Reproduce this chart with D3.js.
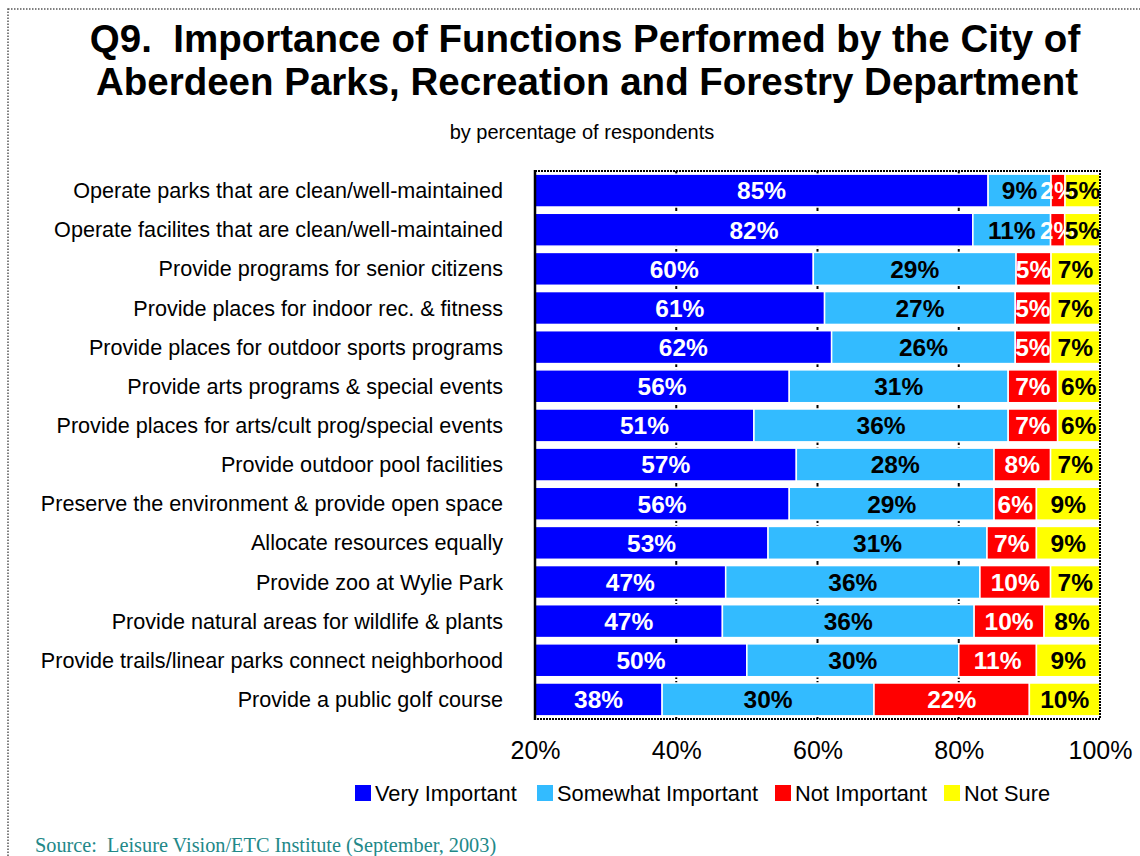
<!DOCTYPE html>
<html>
<head>
<meta charset="utf-8">
<script src="https://cdn.jsdelivr.net/npm/d3@7"></script>
<style>
  body { margin: 0; background: #fff; }
  text { font-family: "Liberation Sans", Arial, sans-serif; }
</style>
</head>
<body>
<div id="chart-area"></div>
<script>
// Q9 importance chart

const categories = [
  "Operate parks that are clean/well-maintained",
  "Operate facilites that are clean/well-maintained",
  "Provide programs for senior citizens",
  "Provide places for indoor rec. & fitness",
  "Provide places for outdoor sports programs",
  "Provide arts programs & special events",
  "Provide places for arts/cult prog/special events",
  "Provide outdoor pool facilities",
  "Preserve the environment & provide open space",
  "Allocate resources equally",
  "Provide zoo at Wylie Park",
  "Provide natural areas for wildlife & plants",
  "Provide trails/linear parks connect neighborhood",
  "Provide a public golf course"
]
const veryImportant = [85, 82, 60, 61, 62, 56, 51, 57, 56, 53, 47, 47, 50, 38]
const somewhatImportant = [9, 11, 29, 27, 26, 31, 36, 28, 29, 31, 36, 36, 30, 30]
const notImportant = [2, 2, 5, 5, 5, 7, 7, 8, 6, 7, 10, 10, 11, 22]
const notSure = [5, 5, 7, 7, 7, 6, 6, 7, 9, 9, 7, 8, 9, 10]

const seriesNames = ["Very Important", "Somewhat Important", "Not Important", "Not Sure"]
const seriesKeys = ["very", "somewhat", "not", "unsure"]
const colors = ["#0000ff", "#33bbff", "#ff0000", "#ffff00"]
const labelColors = ["#fff", "#000", "#fff", "#000"]
const tickValues = [20, 40, 60, 80, 100]
const gridValues = [40, 60, 80]

const W = 1140, H = 856
const PLOT = { LEFT: 535, RIGHT: 1100, TOP: 171, BOTTOM: 719 }

const svg = d3.select("#chart-area").append("svg")
  .attr("width", W)
  .attr("height", H)

// outer dotted frame
svg.append("rect")
  .attr("x", 8).attr("y", 9)
  .attr("width", W + 20).attr("height", H + 20)
  .attr("fill", "none")
  .attr("stroke", "#555")
  .attr("stroke-width", 1.5)
  .attr("stroke-dasharray", "1.5,1.5")

// titles
const title = svg.append("text")
  .attr("x", 586)
  .attr("font-size", "38.5px")
  .attr("font-weight", "bold")
  .attr("text-anchor", "middle")
title.append("tspan").attr("x", 585).attr("y", 52)
  .text("Q9.\u00a0 Importance of Functions Performed by the City of")
title.append("tspan").attr("x", 587).attr("y", 95)
  .text("Aberdeen Parks, Recreation and Forestry Department")

svg.append("text")
  .attr("x", 582).attr("y", 139)
  .attr("font-size", "20px")
  .attr("text-anchor", "middle")
  .text("by percentage of respondents")

// data table
const table = categories.map((c, i) => ({
  name: c,
  very: veryImportant[i],
  somewhat: somewhatImportant[i],
  not: notImportant[i],
  unsure: notSure[i]
}))

// 100% stacked, like the original
const stacked = d3.stack()
  .keys(seriesKeys)
  .offset(d3.stackOffsetExpand)(table)

// Scales
const x = d3.scaleLinear()
  .domain([20, 100])
  .range([PLOT.LEFT, PLOT.RIGHT])
const y = d3.scaleBand()
  .domain(categories)
  .range([PLOT.TOP, PLOT.BOTTOM])
  .paddingInner(0.16)
  .paddingOuter(0.08)

svg.append("clipPath").attr("id", "plot-clip")
  .append("rect")
  .attr("x", PLOT.LEFT).attr("y", PLOT.TOP)
  .attr("width", PLOT.RIGHT - PLOT.LEFT)
  .attr("height", PLOT.BOTTOM - PLOT.TOP)

// gridlines
svg.append("g").selectAll("line")
  .data(gridValues)
  .enter().append("line")
  .attr("x1", d => x(d)).attr("x2", d => x(d))
  .attr("y1", PLOT.TOP).attr("y2", PLOT.BOTTOM)
  .attr("stroke", "#000")
  .attr("stroke-width", 2)
  .attr("stroke-dasharray", "4,2")

// bars
const layers = svg.append("g")
  .attr("clip-path", "url(#plot-clip)")
  .selectAll("g")
  .data(stacked)
  .enter().append("g")
  .attr("fill", (d, i) => colors[i])

layers.selectAll("rect")
  .data(d => d)
  .enter().append("rect")
  .attr("x", d => x(d[0] * 100))
  .attr("width", d => Math.max(0, x(d[1] * 100) - x(d[0] * 100)))
  .attr("y", d => y(d.data.name))
  .attr("height", y.bandwidth())
  .attr("stroke", "#fff")
  .attr("stroke-width", 1.5)

// value labels, centred on the visible part of each segment
stacked.forEach((layer, i) => {
  svg.append("g").selectAll("text")
    .data(layer)
    .enter().append("text")
    .attr("x", d => {
      const a = Math.max(20, d[0] * 100)
      const b = Math.min(100, d[1] * 100)
      return (x(a) + x(b)) / 2
    })
    .attr("y", d => y(d.data.name) + y.bandwidth() / 2)
    .attr("dy", "0.36em")
    .attr("text-anchor", "middle")
    .attr("font-size", "24.5px")
    .attr("font-weight", "bold")
    .attr("fill", labelColors[i])
    .text(d => d.data[layer.key] + "%")
})

// plot border: dotted top/right/bottom, solid left axis
svg.append("rect")
  .attr("x", PLOT.LEFT).attr("y", PLOT.TOP)
  .attr("width", PLOT.RIGHT - PLOT.LEFT)
  .attr("height", PLOT.BOTTOM - PLOT.TOP)
  .attr("fill", "none")
  .attr("stroke", "#000")
  .attr("stroke-width", 2)
  .attr("stroke-dasharray", "2,1")
svg.append("line")
  .attr("x1", PLOT.LEFT).attr("x2", PLOT.LEFT)
  .attr("y1", PLOT.TOP - 1).attr("y2", PLOT.BOTTOM + 1)
  .attr("stroke", "#000")
  .attr("stroke-width", 2.5)

// category labels
svg.append("g").selectAll("text")
  .data(categories)
  .enter().append("text")
  .attr("x", 503)
  .attr("y", d => y(d) + y.bandwidth() / 2)
  .attr("dy", "0.35em")
  .attr("text-anchor", "end")
  .attr("font-size", "21.6px")
  .text(d => d)

// X axis labels
const xAxisCall = d3.axisBottom(x)
  .tickValues(tickValues)
  .tickSize(0)
  .tickPadding(22)
  .tickFormat(d => d + "%")
const xAxis = svg.append("g")
  .attr("transform", `translate(0, ${PLOT.BOTTOM})`)
  .call(xAxisCall)
xAxis.select(".domain").remove()
xAxis.selectAll("text")
  .attr("font-size", "25px")
  .style("font-family", "'Liberation Sans', Arial, sans-serif")
  .attr("fill", "#000")

// legend
const legendX = [355, 537, 775, 944]
const legend = svg.append("g").selectAll("g")
  .data(seriesNames)
  .enter().append("g")
  .attr("transform", (d, i) => `translate(${legendX[i]}, 793)`)
legend.append("rect")
  .attr("x", 0).attr("y", -8)
  .attr("width", 16).attr("height", 16)
  .attr("fill", (d, i) => colors[i])
legend.append("text")
  .attr("x", 20)
  .attr("dy", "0.35em")
  .attr("font-size", "21.8px")
  .text(d => d)

// source
svg.append("text")
  .attr("x", 35).attr("y", 852)
  .attr("font-size", "20.3px")
  .style("font-family", "'Liberation Serif', 'Times New Roman', serif")
  .attr("fill", "#228888")
  .text("Source:\u00a0 Leisure Vision/ETC Institute (September, 2003)")
</script>
</body>
</html>
